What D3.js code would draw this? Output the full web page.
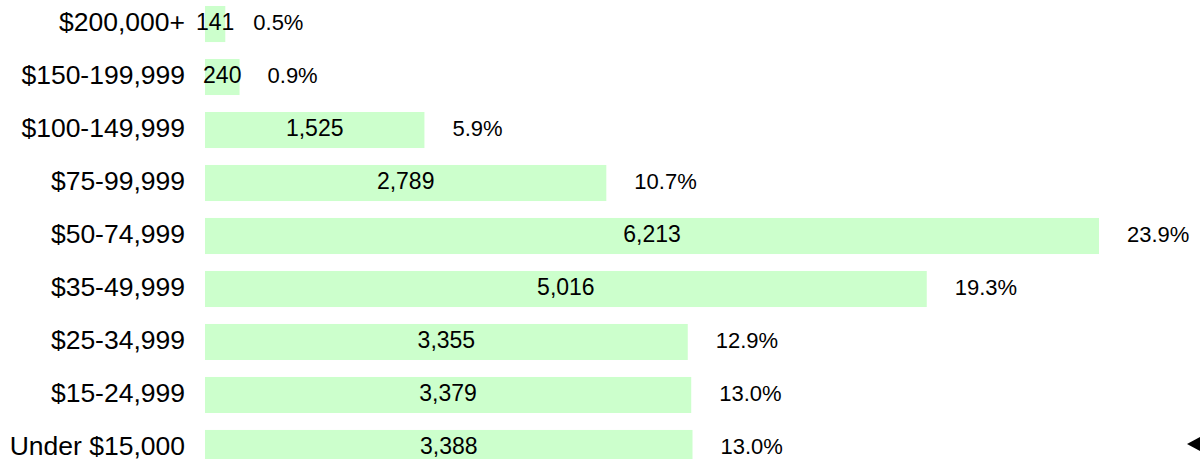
<!DOCTYPE html>
<html>
<head>
<meta charset="utf-8">
<script src="https://cdn.jsdelivr.net/npm/d3@7"></script>
<style>
  body { margin: 0; background: #fff; }
  svg { display: block; font-family: Arial, "Liberation Sans", sans-serif; }
</style>
</head>
<body>
<div id="chart"></div>
<script>
// Household income brackets, top to bottom
const categories = ["$200,000+", "$150-199,999", "$100-149,999", "$75-99,999", "$50-74,999",
    "$35-49,999", "$25-34,999", "$15-24,999", "Under $15,000"];
const households = [141, 240, 1525, 2789, 6213, 5016, 3355, 3379, 3388];
const percents = ["0.5%", "0.9%", "5.9%", "10.7%", "23.9%", "19.3%", "12.9%", "13.0%", "13.0%"];

const data = categories.map((c, i) => ({ cat: c, value: households[i], pct: percents[i] }));

const width = 1200, height = 459;

const svg = d3.select("#chart")
    .append("svg")
    .attr("width", width)
    .attr("height", height);

// x: bars start at 205, 6,213 reaches ~1099
const x = d3.scaleLinear()
    .domain([0, 6213])
    .range([205, 1099]);

// y: 53px per row, 36px bars
const y = d3.scaleBand()
    .domain(categories)
    .range([6, 466])
    .paddingInner(0.32)
    .paddingOuter(0);

const mid = d => y(d.cat) + y.bandwidth() / 2 - 2;

// bars
svg.selectAll("rect.bar")
    .data(data)
    .enter().append("rect")
    .attr("class", "bar")
    .attr("x", x(0))
    .attr("y", d => y(d.cat))
    .attr("width", d => x(d.value) - x(0))
    .attr("height", y.bandwidth())
    .attr("fill", "#ccffcc");

// category labels
svg.selectAll("text.cat")
    .data(data)
    .enter().append("text")
    .attr("class", "cat")
    .attr("x", 185)
    .attr("y", mid)
    .attr("dy", "0.35em")
    .attr("text-anchor", "end")
    .attr("font-size", "26.5px")
    .attr("fill", "#000")
    .text(d => d.cat);

// value labels, centered in bar
svg.selectAll("text.val")
    .data(data)
    .enter().append("text")
    .attr("class", "val")
    .attr("x", d => (x(0) + x(d.value)) / 2)
    .attr("y", mid)
    .attr("dy", "0.35em")
    .attr("text-anchor", "middle")
    .attr("font-size", "23px")
    .attr("fill", "#000")
    .text(d => d3.format(",")(d.value));

// percent labels to the right of each bar
svg.selectAll("text.pct")
    .data(data)
    .enter().append("text")
    .attr("class", "pct")
    .attr("x", d => x(d.value) + 28)
    .attr("y", mid)
    .attr("dy", "0.35em")
    .attr("font-size", "22px")
    .attr("fill", "#000")
    .text(d => d.pct);

// little scroll arrow bottom right
svg.append("path")
    .attr("d", "M1187,444 L1200,437 L1200,451 Z")
    .attr("fill", "#000");
</script>
</body>
</html>
